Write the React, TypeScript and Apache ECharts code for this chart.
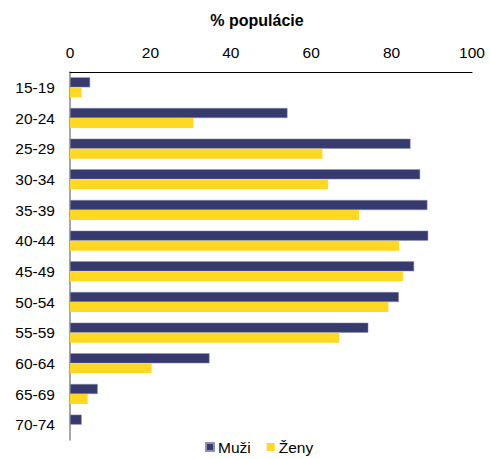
import React, { useEffect, useRef } from "react";
import * as echarts from "echarts";

const categories = ["15-19", "20-24", "25-29", "30-34", "35-39", "40-44", "45-49", "50-54", "55-59", "60-64", "65-69", "70-74"];
const muzi = [5.0, 54.1, 84.7, 87.1, 88.9, 89.1, 85.6, 81.8, 74.2, 34.7, 6.9, 2.9];
const zeny = [2.9, 30.7, 62.8, 64.2, 71.9, 81.9, 82.8, 79.2, 67.0, 20.3, 4.4, 0];
const axisTitle = "% populácie";

const FONT = "'Liberation Sans', Arial, sans-serif";

export default function App() {
  const ref = useRef<HTMLDivElement>(null);
  useEffect(() => {
    if (!ref.current) return;
    const chart = echarts.init(ref.current, null, { renderer: "svg" });
    chart.setOption({
      animation: false,
      textStyle: { fontFamily: FONT },
      graphic: [
        {
          type: "text",
          x: 257,
          y: 20,
          style: { text: axisTitle, font: `bold 16px ${FONT}`, fill: "#000", align: "center", verticalAlign: "middle" },
        },
      ],
      legend: {
        bottom: -1,
        left: 200,
        itemWidth: 8,
        itemHeight: 8,
        itemGap: 16,
        icon: "rect",
        textStyle: { fontSize: 15.5, color: "#000", fontFamily: FONT, padding: [0, 0, 0, -1] },
        data: ["Muži", "Ženy"],
      },
      grid: { left: 70, right: 18, top: 72, bottom: 19, containLabel: false },
      xAxis: {
        type: "value",
        position: "top",
        min: 0,
        max: 100,
        interval: 20,
        axisLine: { show: true, lineStyle: { color: "#000", width: 1 } },
        axisTick: { show: false },
        splitLine: { show: false },
        axisLabel: { color: "#000", fontSize: 15.5, margin: 12, fontFamily: FONT },
      },
      yAxis: {
        type: "category",
        inverse: true,
        data: categories,
        axisLine: { show: true, lineStyle: { color: "#888", width: 1.5 } },
        axisTick: { show: false },
        axisLabel: { color: "#000", fontSize: 15.5, margin: 15, fontFamily: FONT },
      },
      series: [
        {
          name: "Muži",
          type: "bar",
          data: muzi,
          barWidth: 10,
          barGap: "0%",
          itemStyle: { color: "#363A6E", borderColor: "#8E90B4", borderWidth: 0.5 },
        },
        {
          name: "Ženy",
          type: "bar",
          data: zeny,
          barWidth: 10,
          itemStyle: { color: "#FFD823" },
        },
      ],
    });
    return () => chart.dispose();
  }, []);
  return <div ref={ref} style={{ width: 490, height: 459, position: "absolute", left: 0, top: 0 }} />;
}
